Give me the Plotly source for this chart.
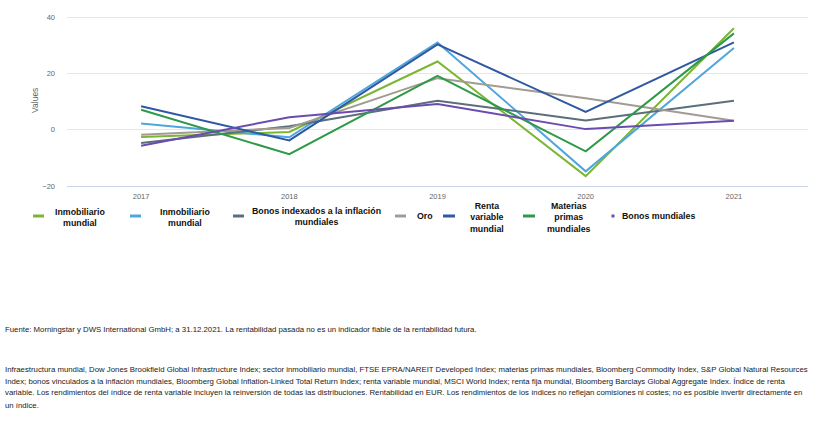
import plotly.graph_objects as go

years = ["2017", "2018", "2019", "2020", "2021"]

series_names = [
    "Inmobiliario mundial",
    "Inmobiliario mundial",
    "Bonos indexados a la inflación mundiales",
    "Oro",
    "Renta variable mundial",
    "Materias primas mundiales",
    "Bonos mundiales",
]
legend_labels = [
    "Inmobiliario<br>mundial",
    "Inmobiliario<br>mundial",
    "Bonos indexados a la inflación<br>mundiales",
    "Oro",
    "Renta<br>variable<br>mundial",
    "Materias<br>primas<br>mundiales",
    "Bonos mundiales",
]
colors = ["#7cb536", "#4ea6dc", "#5b6e7a", "#a29b92", "#2f58a2", "#2e9a48", "#6a4cb0"]

inmob_1 = [-2.6, -0.8, 24.2, -16.5, 36.0]
inmob_2 = [2.2, -2.7, 31.0, -14.8, 29.0]
bonos_idx = [-4.7, 1.2, 10.3, 3.3, 10.3]
oro = [-1.8, 0.6, 18.3, 11.2, 3.2]
renta_var = [8.3, -3.8, 30.3, 6.3, 31.0]
materias = [7.1, -8.7, 19.1, -7.7, 34.2]
bonos_mund = [-5.7, 4.4, 9.1, 0.2, 3.2]
values = [inmob_1, inmob_2, bonos_idx, oro, renta_var, materias, bonos_mund]

y_ticks = [-20, 0, 20, 40]

source_text = ("Fuente: Morningstar y DWS International GmbH; a 31.12.2021. "
               "La rentabilidad pasada no es un indicador fiable de la rentabilidad futura.")
note_lines = [
    "Infraestructura mundial, Dow Jones Brookfield Global Infrastructure Index; sector inmobiliario mundial, FTSE EPRA/NAREIT Developed Index; materias primas mundiales, Bloomberg Commodity Index, S&P Global Natural Resources",
    "Index; bonos vinculados a la inflación mundiales, Bloomberg Global Inflation-Linked Total Return Index; renta variable mundial, MSCI World Index; renta fija mundial, Bloomberg Barclays Global Aggregate Index. Índice de renta",
    "variable. Los rendimientos del índice de renta variable incluyen la reinversión de todas las distribuciones. Rentabilidad en EUR. Los rendimientos de los índices no reflejan comisiones ni costes; no es posible invertir directamente en",
    "un índice.",
]

W, H = 828, 444
PL, PR, PT, PB = 67, 808, 10, 186   # plot area in page pixels
ML, MR, MT, MB = PL, W - PR, PT, H - PB
PW, PH = PR - PL, PB - PT


def px_x(x):
    return (x - PL) / PW


def px_y(y):
    return (PB - y) / PH


fig = go.Figure()
for name, vals, col in zip(series_names, values, colors):
    fig.add_trace(go.Scatter(x=years, y=vals, name=name, mode="lines",
                             line=dict(color=col, width=2), showlegend=False))

# custom legend (symbol + centered multi-line label)
legend_sym_x = [(33, 44), (130, 141), (233, 244), (395, 406), (443, 455), (523, 535), (613, 613)]
legend_txt_x = [80, 185, 316, 425, 487, 569, 658]
legend_txt_y = [217, 217, 216, 216, 217, 217, 216]
sym_y = 216
leg_font = dict(family="Liberation Sans", size=8.8, color="#111")
for i, (lab, col) in enumerate(zip(legend_labels, colors)):
    x0, x1 = legend_sym_x[i]
    if x0 == x1:
        fig.add_shape(type="rect", xref="paper", yref="paper",
                      x0=px_x(x0 - 1.5), x1=px_x(x0 + 1.5),
                      y0=px_y(sym_y + 1.5), y1=px_y(sym_y - 1.5),
                      fillcolor=col, line=dict(width=0))
    else:
        fig.add_shape(type="line", xref="paper", yref="paper",
                      x0=px_x(x0), x1=px_x(x1), y0=px_y(sym_y), y1=px_y(sym_y),
                      line=dict(color=col, width=3))
    fig.add_annotation(text="<b>" + lab + "</b>", xref="paper", yref="paper",
                       x=px_x(legend_txt_x[i]), y=px_y(legend_txt_y[i]),
                       xanchor="center", yanchor="middle", align="center",
                       showarrow=False, font=leg_font)

# y-axis title
fig.add_annotation(text="Values", xref="paper", yref="paper",
                   x=px_x(35), y=px_y(101), textangle=-90,
                   xanchor="center", yanchor="middle", showarrow=False,
                   font=dict(family="Liberation Sans", size=8.5, color="#666666"))

foot_font = dict(family="Liberation Sans", size=7.8, color="#1a1a1a")
fig.add_annotation(text=source_text, xref="paper", yref="paper",
                   x=px_x(3), y=px_y(329), xanchor="left", yanchor="middle",
                   showarrow=False, font=foot_font)
for k, line in enumerate(note_lines):
    fig.add_annotation(text=line, xref="paper", yref="paper",
                       x=px_x(3), y=px_y(369 + 12 * k), xanchor="left", yanchor="middle",
                       showarrow=False, font=foot_font)

fig.update_layout(
    width=W, height=H,
    margin=dict(l=ML, r=MR, t=MT, b=MB),
    paper_bgcolor="white", plot_bgcolor="white",
    font=dict(family="Liberation Sans", color="#666666"),
    showlegend=False,
    xaxis=dict(type="category", range=[-0.5, 4.5], showgrid=False,
               showline=True, linecolor="#ccd6eb", linewidth=1,
               ticks="", tickfont=dict(size=7.5, color="#666666"),
               ticklabelstandoff=3),
    yaxis=dict(range=[-20, 42.5], tickvals=y_ticks, showgrid=True,
               gridcolor="#e6e6e6", gridwidth=1, zeroline=False,
               showline=False, ticks="",
               tickfont=dict(size=7.5, color="#666666"), ticklabelstandoff=11),
)

fig.write_html("out.html", config={"displayModeBar": False},
               post_script="document.body.style.margin='0';document.body.style.overflow='hidden';")
